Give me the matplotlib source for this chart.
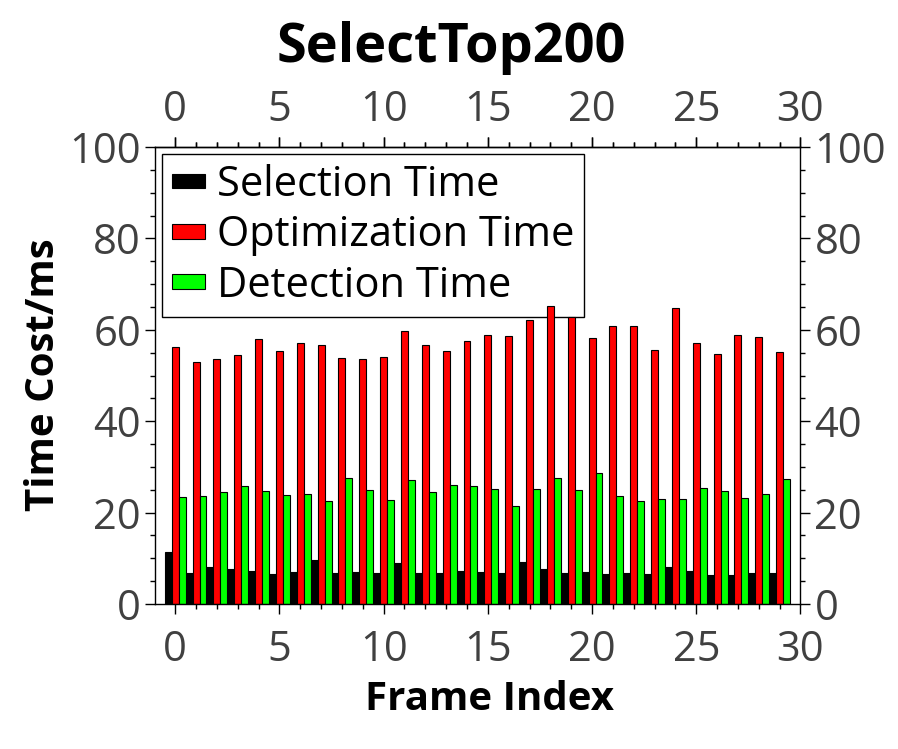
import matplotlib
matplotlib.use("Agg")
import matplotlib.pyplot as plt
import numpy as np
from matplotlib.ticker import FixedLocator

frames = list(range(30))
selection = [11.4, 6.8, 8.1, 7.7, 7.2, 6.6, 7.0, 9.6, 6.8, 7.0,
             6.8, 9.0, 6.8, 6.8, 7.2, 7.0, 6.8, 9.2, 7.7, 6.8,
             7.0, 6.6, 6.8, 6.6, 8.2, 7.2, 6.4, 6.4, 6.8, 6.8]
optimization = [56.3, 53.0, 53.7, 54.5, 58.0, 55.4, 57.2, 56.7, 53.9, 53.7,
                54.1, 59.8, 56.7, 55.4, 57.6, 58.9, 58.7, 62.2, 65.3, 62.9,
                58.3, 60.9, 60.9, 55.6, 64.8, 57.2, 54.8, 58.9, 58.5, 55.2]
detection = [23.4, 23.6, 24.5, 25.8, 24.7, 23.8, 24.0, 22.5, 27.6, 24.9,
             22.7, 27.1, 24.5, 26.0, 25.8, 25.1, 21.4, 25.1, 27.6, 24.9,
             28.7, 23.6, 22.6, 23.0, 23.0, 25.4, 24.7, 23.2, 24.0, 27.3]
series_labels = ["Selection Time", "Optimization Time", "Detection Time"]
series_colors = ["#000000", "#ff0000", "#00ff00"]
x_major = [0, 5, 10, 15, 20, 25, 30]
y_major = [0, 20, 40, 60, 80, 100]

FONT = ["Open Sans", "DejaVu Sans"]
plt.rcParams['font.family'] = FONT

fig = plt.figure(figsize=(8.98, 7.49), dpi=100)
ax = fig.add_axes([155/898, 1-604/749, (800.5-155)/898, (604-147)/749])

x = np.array(frames)
w = 1/3
lw = 0.8
for vals, off, col, lab in zip([selection, optimization, detection], [-w, 0, w],
                               series_colors, series_labels):
    ax.bar(x + off, vals, width=w, color=col, edgecolor="black", linewidth=lw,
           label=lab, zorder=2)

ax.set_xlim(-0.97, 30)
ax.set_ylim(0, 100)
ax.xaxis.set_major_locator(FixedLocator(x_major))
ax.xaxis.set_minor_locator(FixedLocator(list(range(0, 31))))
ax.yaxis.set_major_locator(FixedLocator(y_major))
ax.yaxis.set_minor_locator(FixedLocator(list(range(0, 101, 5))))
ax.tick_params(which="both", direction="out", top=True, right=True,
               labeltop=False, labelright=True, width=1, color="black")
ax.tick_params(which="major", length=7, labelsize=30, labelcolor="#404040")
ax.tick_params(axis="y", which="major", pad=3)
ax.tick_params(axis="x", which="major", pad=11)
ax.tick_params(which="minor", length=3.5)
for s in ax.spines.values():
    s.set_linewidth(1)

top = ax.secondary_xaxis("top")
top.xaxis.set_major_locator(FixedLocator(x_major))
top.xaxis.set_minor_locator(FixedLocator(list(range(0, 31))))
top.tick_params(which="both", direction="out", width=1, color="black")
top.tick_params(which="major", length=7, labelsize=30, labelcolor="#404040", pad=4.5)
top.tick_params(which="minor", length=3.5)
top.spines["top"].set_linewidth(1)

leg = ax.legend(loc="upper left", fontsize=30, frameon=True, fancybox=False,
                edgecolor="black", framealpha=1, borderaxespad=0.17,
                handlelength=0.8, handleheight=0.17, handletextpad=0.27,
                borderpad=0.24, labelspacing=0.2)
leg.get_frame().set_linewidth(1)
leg.set_zorder(1)

fig.text(451/898, 1-48/749, "SelectTop200", ha="center", va="center",
         fontsize=39, fontweight="bold")
fig.text(490/898, 1-700/749, "Frame Index", ha="center", va="center",
         fontsize=29, fontweight="bold")
fig.text(44/898, 1-375/749, "Time Cost/ms", ha="center", va="center",
         fontsize=29, fontweight="bold", rotation=90)

fig.savefig("out.png", dpi=100)
